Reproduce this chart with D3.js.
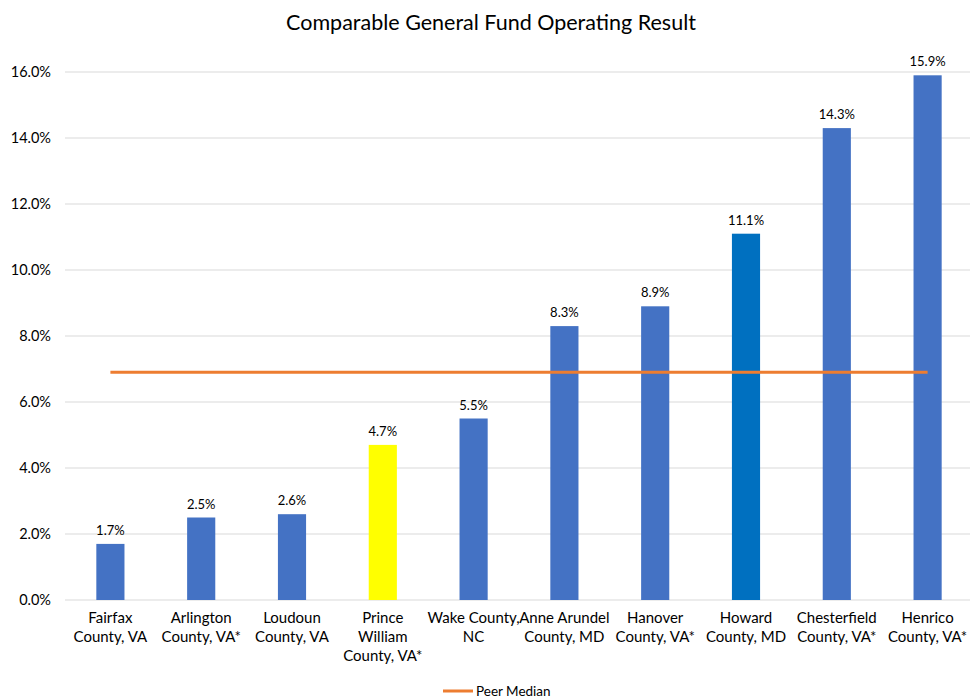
<!DOCTYPE html>
<html>
<head>
<meta charset="utf-8">
<script src="https://cdn.jsdelivr.net/npm/d3@7"></script>
<style>
  body { margin: 0; background: #fff; }
  text { font-family: Lato, "Open Sans", sans-serif; fill: #000; }
</style>
</head>
<body>
<div id="chart"></div>
<script>
// data
const counties = [
  'Fairfax|County, VA', 'Arlington|County, VA*', 'Loudoun|County, VA',
  'Prince|William|County, VA*', 'Wake County,|NC', 'Anne Arundel|County, MD',
  'Hanover|County, VA*', 'Howard|County, MD', 'Chesterfield|County, VA*',
  'Henrico|County, VA*'
];
const results = [1.7, 2.5, 2.6, 4.7, 5.5, 8.3, 8.9, 11.1, 14.3, 15.9];
const barColors = ['#4472C4','#4472C4','#4472C4','#FFFF00','#4472C4','#4472C4','#4472C4','#0070C0','#4472C4','#4472C4'];
const peerMedian = 6.9;
const yTicks = [0, 2, 4, 6, 8, 10, 12, 14, 16];

const W = 970, H = 700;
const svg = d3.select('#chart').append('svg')
  .attr('width', W).attr('height', H);

const x = d3.scaleBand()
  .domain(counties)
  .range([65, 973])
  .paddingInner(0.69)
  .paddingOuter(0.345);
const y = d3.scaleLinear().domain([0, 16]).range([600, 72]);

// title
svg.append('text')
  .attr('x', 491).attr('y', 30)
  .attr('text-anchor', 'middle')
  .style('font-size', '21.5px')
  .text('Comparable General Fund Operating Result');

// gridlines
svg.append('g').selectAll('line')
  .data(yTicks).enter().append('line')
    .attr('x1', 65).attr('x2', 970)
    .attr('y1', d => y(d)).attr('y2', d => y(d))
    .attr('stroke', '#D9D9D9').attr('stroke-width', 1);

// y axis labels
const yAxis = svg.append('g')
  .attr('transform', 'translate(65,0)')
  .call(d3.axisLeft(y).tickValues(yTicks).tickSize(0).tickPadding(14)
    .tickFormat(d => d.toFixed(1) + '%'));
yAxis.select('.domain').remove();
yAxis.selectAll('text')
  .style('font-size', '14.5px')
  .style('font-family', 'Lato, "Open Sans", sans-serif')
  .attr('fill', '#000');

// bars
svg.append('g').selectAll('rect')
  .data(results).enter().append('rect')
    .attr('x', (d, i) => x(counties[i]))
    .attr('width', x.bandwidth())
    .attr('y', d => y(d))
    .attr('height', d => y(0) - y(d))
    .attr('fill', (d, i) => barColors[i]);

// value labels
svg.append('g').selectAll('text')
  .data(results).enter().append('text')
    .attr('x', (d, i) => x(counties[i]) + x.bandwidth() / 2)
    .attr('y', d => y(d) - 9)
    .attr('text-anchor', 'middle')
    .style('font-size', '13px')
    .text(d => d.toFixed(1) + '%');

// x category labels
const xl = svg.append('g').selectAll('text')
  .data(counties).enter().append('text')
    .attr('x', d => x(d) + x.bandwidth() / 2)
    .attr('y', 623)
    .attr('text-anchor', 'middle')
    .style('font-size', '15px');
xl.each(function (d) {
  const t = d3.select(this);
  d.split('|').forEach((line, j) => {
    t.append('tspan')
      .attr('x', x(d) + x.bandwidth() / 2)
      .attr('dy', j === 0 ? 0 : 19)
      .text(line);
  });
});

// peer median line
const first = counties[0], last = counties[counties.length - 1];
svg.append('line')
  .attr('x1', x(first) + x.bandwidth() / 2)
  .attr('x2', x(last) + x.bandwidth() / 2)
  .attr('y1', y(peerMedian)).attr('y2', y(peerMedian))
  .attr('stroke', '#ED7D31').attr('stroke-width', 3);

// legend
svg.append('line')
  .attr('x1', 443).attr('x2', 473)
  .attr('y1', 691).attr('y2', 691)
  .attr('stroke', '#ED7D31').attr('stroke-width', 3);
svg.append('text')
  .attr('x', 476).attr('y', 695.5)
  .style('font-size', '13.5px')
  .text('Peer Median');
</script>
</body>
</html>
